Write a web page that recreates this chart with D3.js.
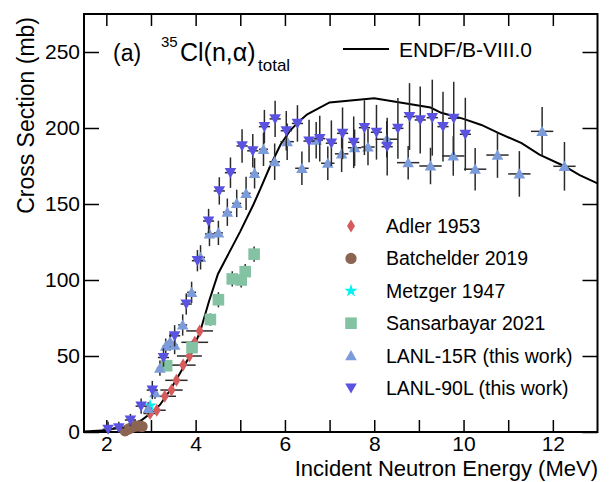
<!DOCTYPE html>
<html>
<head>
<meta charset="utf-8">
<script src="https://cdn.jsdelivr.net/npm/d3@7"></script>
<style>
  body { margin: 0; background: #fff; }
  svg { display: block; font-family: "Liberation Sans", Arial, Helvetica, sans-serif; }
  .tick line { stroke: #000; stroke-width: 1.5; }
  .tick text { font-size: 21px; fill: #000; }
</style>
</head>
<body>
<svg id="chart"></svg>
<script>
"use strict";

var width = 609,
    height = 482;

// ENDF/B-VIII.0 evaluation
var endfE  = [1.5, 2.0, 2.5, 2.8, 3.0, 3.2, 3.43, 3.65, 3.88, 4.1, 4.3, 4.5, 4.75, 5.0, 5.3, 5.45, 5.67, 5.9, 6.12, 6.34, 6.5, 7.0, 8.0, 9.26, 9.5, 10.0, 10.4, 10.8, 11.3, 11.7, 12.25, 12.6, 13.0];
var endfXS = [0.3, 1.2, 4, 8, 12.5, 17.8, 27.6, 38.6, 50.7, 66, 86, 104, 118, 132, 150, 160, 175, 189, 198.5, 205, 209, 216.8, 219.5, 213.5, 210, 206, 202, 196.5, 190, 182.5, 175, 169, 163.6];

// Adler 1953
var adlerE    = [2.98, 3.13, 3.31, 3.46, 3.57, 3.72, 3.86, 3.98, 4.09];
var adlerXS   = [12.2, 14.3, 23.5, 27.6, 34, 44, 50, 59, 66.5];
var adlerErr  = [2, 2, 2, 2, 2.5, 2.5, 3, 3, 3];
var adlerEErr = [0.15, 0.2, 0.25, 0.25, 0.25, 0.28, 0.28, 0.3, 0.3];

// Batchelder 2019
var batchE  = [2.42, 2.5, 2.58, 2.66, 2.74, 2.8];
var batchXS = [0.8, 2, 3.2, 3.8, 4, 3.6];

// Metzger 1947
var metzE  = [2.98];
var metzXS = [17.3];

// Sansarbayar 2021
var sansE   = [3.35, 3.92, 4.33, 4.51, 4.82, 5.02, 5.11, 5.31];
var sansXS  = [43.6, 55.5, 74, 87, 100.7, 100, 105.5, 117];
var sansErr = [3, 4, 4, 5, 5, 5, 5, 5];

// LANL-15R (this work)
var l15E    = [2.94, 3.09, 3.2, 3.33, 3.43, 3.53, 3.71, 3.91, 4.11, 4.31, 4.51, 4.71, 4.92, 5.13, 5.32, 5.52, 5.77, 6.05, 6.38, 6.7, 6.96, 7.27, 7.56, 7.86, 8.28, 8.76, 9.26, 9.77, 10.26, 10.76, 11.25, 11.76, 12.26];
var l15XS   = [15.6, 25.9, 42, 56.5, 59.4, 57.2, 70.4, 91.9, 114.9, 130.3, 131, 144.6, 150.4, 157, 170.2, 186, 177.8, 191, 173.5, 192, 176.8, 183, 187, 187.5, 192.6, 177.2, 175, 181.6, 172.9, 182.2, 169.8, 197.8, 174.8];
var l15Err  = [4, 4, 5, 5, 6, 6, 7, 7, 8, 8, 8, 9, 9, 11, 10, 11, 12, 12, 11, 12, 11, 12, 12, 12, 12, 11, 12, 13, 14, 15, 15, 16, 16];
var l15EErr = [0.07, 0.07, 0.07, 0.07, 0.07, 0.07, 0.1, 0.1, 0.1, 0.1, 0.1, 0.1, 0.1, 0.1, 0.1, 0.1, 0.12, 0.15, 0.15, 0.15, 0.15, 0.15, 0.15, 0.15, 0.25, 0.25, 0.25, 0.25, 0.25, 0.25, 0.25, 0.25, 0.25];

// LANL-90L (this work)
var l90E   = [2.04, 2.28, 2.54, 2.78, 3.03, 3.28, 3.53, 3.79, 4.04, 4.29, 4.53, 4.78, 5.04, 5.28, 5.54, 5.78, 6.03, 6.28, 6.54, 6.78, 7.04, 7.29, 7.54, 7.78, 8.05, 8.29, 8.53, 8.79, 9.03, 9.30, 9.54, 9.78, 10.04];
var l90XS  = [1.8, 2.8, 7.9, 17, 27.6, 49, 63.3, 84.2, 112.7, 138.8, 158.6, 170.6, 188.2, 185, 200.9, 206, 198.2, 203, 191.4, 193, 190, 196.5, 190.6, 200.2, 197.2, 187.7, 199.8, 207.5, 205.3, 206.8, 200.9, 206.4, 195.9];
var l90Err = [5, 4, 4, 5, 6, 6, 7, 7, 7, 8, 9, 10, 11, 11, 11, 12, 13, 12, 14, 15, 15, 17, 17, 18, 18, 19, 20, 22, 22, 25, 23, 24, 24];

var xTicks = [2, 4, 6, 8, 10, 12],
    yTicks = [0, 50, 100, 150, 200, 250];

var legendNames = ["Adler 1953", "Batchelder 2019", "Metzger 1947", "Sansarbayar 2021", "LANL-15R (this work)", "LANL-90L (this work)"];
var colors = {
    adler: "#d55c5c",
    batch: "#8b6452",
    metz: "#00f2f2",
    sans: "#84c2a4",
    l15: "#7b9bdb",
    l90: "#5a52e0"
};

var x = d3.scaleLinear().domain([1.5, 13]).range([84, 597.5]);
var y = d3.scaleLinear().domain([0, 275]).range([432, 14]);

var svg = d3.select("#chart")
    .attr("width", width)
    .attr("height", height);

// marker paths, centred on 0,0
var shapes = {
    diamond: "M0,-6.5L4,0L0,6.5L-4,0Z",
    up: "M-5.8,4.6L5.8,4.6L0,-5.6Z",
    down: "M-5.8,-4.6L5.8,-4.6L0,5.6Z",
    square: "M-5.8,-5.8H5.8V5.8H-5.8Z",
    circle: d3.symbol(d3.symbolCircle, 100)(),
    star: d3.symbol(d3.symbolStar, 55)()
};

function zip(es, xs, yerr, xerr) {
    return es.map(function (e, i) {
        return {
            e: e,
            v: xs[i],
            dy: yerr ? yerr[i] : 0,
            dx: xerr ? (Array.isArray(xerr) ? xerr[i] : xerr) : 0
        };
    });
}

var series = [
    { key: "adler", shape: "diamond", data: zip(adlerE, adlerXS, adlerErr, adlerEErr) },
    { key: "batch", shape: "circle", data: zip(batchE, batchXS) },
    { key: "metz", shape: "star", data: zip(metzE, metzXS) },
    { key: "sans", shape: "square", data: zip(sansE, sansXS, sansErr) },
    { key: "l15", shape: "up", data: zip(l15E, l15XS, l15Err, l15EErr) },
    { key: "l90", shape: "down", data: zip(l90E, l90XS, l90Err, 0.125) }
];

// axes (ticks pointing inward, ROOT style)
var gx = svg.append("g").attr("transform", "translate(0,432)");
gx.call(d3.axisBottom(x).tickValues(d3.range(1.5, 13.01, 0.5)).tickSize(-6).tickFormat(""));
gx.call(d3.axisBottom(x).tickValues(d3.range(2, 13, 1)).tickSize(-12).tickPadding(4)
    .tickFormat(function (d) { return xTicks.indexOf(d) >= 0 ? d : ""; }));

var gt = svg.append("g").attr("transform", "translate(0,14)");
gt.call(d3.axisTop(x).tickValues(d3.range(1.5, 13.01, 0.5)).tickSize(-6).tickFormat(""));
gt.call(d3.axisTop(x).tickValues(d3.range(2, 13, 1)).tickSize(-12).tickFormat(""));

var gy = svg.append("g").attr("transform", "translate(84,0)");
gy.call(d3.axisLeft(y).tickValues(d3.range(0, 271, 10)).tickSize(-8).tickFormat(""));
gy.call(d3.axisLeft(y).tickValues(yTicks).tickSize(-15).tickPadding(4));

var gr = svg.append("g").attr("transform", "translate(597.5,0)");
gr.call(d3.axisRight(y).tickValues(d3.range(0, 271, 10)).tickSize(-8).tickFormat(""));
gr.call(d3.axisRight(y).tickValues(yTicks).tickSize(-15).tickFormat(""));

svg.selectAll(".domain").remove();
svg.selectAll(".tick text").attr("fill", "#000");

svg.append("rect")
    .attr("x", 84).attr("y", 14)
    .attr("width", 597.5 - 84).attr("height", 432 - 14)
    .attr("fill", "none")
    .attr("stroke", "#000")
    .attr("stroke-width", 2);

// axis titles
svg.append("text")
    .attr("x", 598).attr("y", 476)
    .attr("text-anchor", "end")
    .attr("font-size", 22)
    .text("Incident Neutron Energy (MeV)");

svg.append("text")
    .attr("transform", "translate(34,17) rotate(-90)")
    .attr("text-anchor", "end")
    .attr("font-size", 23)
    .text("Cross Section (mb)");

// ENDF curve
var line = d3.line()
    .x(function (d) { return x(d[0]); })
    .y(function (d) { return y(d[1]); });

svg.append("path")
    .datum(endfE.map(function (e, i) { return [e, endfXS[i]]; }))
    .attr("d", line)
    .attr("fill", "none")
    .attr("stroke", "#000")
    .attr("stroke-width", 2);

// error bars then markers
series.forEach(function (s) {
    var g = svg.append("g").attr("class", s.key);
    var bars = g.selectAll(".err").data(s.data).enter().append("g").attr("class", "err")
        .attr("stroke", "#2a2a2a").attr("stroke-width", 1.5);
    bars.filter(function (d) { return d.dy > 0; }).append("line")
        .attr("x1", function (d) { return x(d.e); })
        .attr("x2", function (d) { return x(d.e); })
        .attr("y1", function (d) { return y(Math.max(0, d.v - d.dy)); })
        .attr("y2", function (d) { return y(d.v + d.dy); });
    bars.filter(function (d) { return d.dx > 0; }).append("line")
        .attr("x1", function (d) { return x(d.e - d.dx); })
        .attr("x2", function (d) { return x(d.e + d.dx); })
        .attr("y1", function (d) { return y(d.v); })
        .attr("y2", function (d) { return y(d.v); });
});

series.forEach(function (s) {
    svg.select("g." + s.key).selectAll(".pt")
        .data(s.data)
        .enter().append("path")
        .attr("class", "pt")
        .attr("d", shapes[s.shape])
        .attr("transform", function (d) { return "translate(" + x(d.e) + "," + y(d.v) + ")"; })
        .attr("fill", colors[s.key]);
});

// title
svg.append("text").attr("x", 113).attr("y", 61).attr("font-size", 23).text("(a)");
svg.append("text").attr("x", 161).attr("y", 47).attr("font-size", 15).text("35");
svg.append("text").attr("x", 180).attr("y", 61).attr("font-size", 25).text("Cl(n,\u03b1)");
svg.append("text").attr("x", 258).attr("y", 71).attr("font-size", 17).text("total");

// legend
svg.append("line")
    .attr("x1", 343).attr("x2", 389)
    .attr("y1", 49).attr("y2", 49)
    .attr("stroke", "#000").attr("stroke-width", 2);
svg.append("text")
    .attr("x", 399).attr("y", 57)
    .attr("font-size", 21)
    .text("ENDF/B-VIII.0");

var legend = svg.append("g").selectAll("g")
    .data(series)
    .enter().append("g")
    .attr("transform", function (d, i) { return "translate(351," + (226 + i * 32.4) + ")"; });

legend.append("path")
    .attr("d", function (d) { return shapes[d.shape]; })
    .attr("fill", function (d) { return colors[d.key]; });

legend.append("text")
    .attr("x", 35).attr("y", 7)
    .attr("font-size", 19.5)
    .text(function (d, i) { return legendNames[i]; });
</script>
</body>
</html>
